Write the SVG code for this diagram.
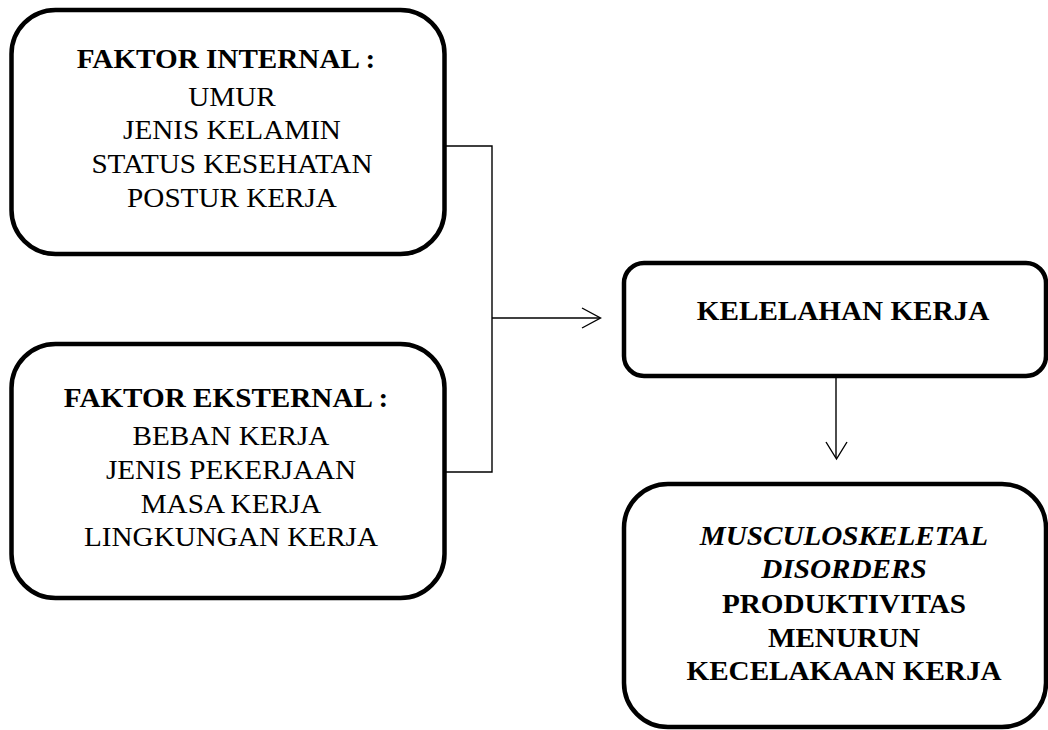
<svg xmlns="http://www.w3.org/2000/svg" width="1048" height="730" viewBox="0 0 1048 730">
<style>
.box{fill:#fff;stroke:#000;stroke-width:4.5}
.t{font-family:"Liberation Serif","Times New Roman",serif;font-size:27px;fill:#000;text-anchor:middle}
.b{font-weight:bold}
.i{font-style:italic}
.c{fill:none;stroke:#000;stroke-width:1.4}
</style>
<rect width="1048" height="730" fill="#fff"/>
<g id="connectors">
<polyline class="c" points="446,146 492,146 492,472 446,472"/>
<line class="c" x1="492" y1="318" x2="600" y2="318"/>
<polyline class="c" points="582,308 600.5,318 582,328"/>
<line class="c" x1="836" y1="378" x2="836" y2="458"/>
<polyline class="c" points="826,442 836.5,459 847,442"/>
</g>
<g id="internal">
<rect class="box" x="11.5" y="10" width="433" height="244" rx="44"/>
<g transform="translate(226,0) scale(1.08,1)">
<text class="t b" x="0" y="68">FAKTOR INTERNAL :</text>
</g>
<g transform="translate(232,0) scale(1.08,1)">
<text class="t" x="0" y="106">UMUR</text>
<text class="t" x="0" y="139">JENIS KELAMIN</text>
<text class="t" x="0" y="173">STATUS KESEHATAN</text>
<text class="t" x="0" y="207">POSTUR KERJA</text>
</g>
</g>
<g id="eksternal">
<rect class="box" x="11.5" y="344" width="433" height="254" rx="44"/>
<g transform="translate(226,0) scale(1.08,1)">
<text class="t b" x="0" y="407">FAKTOR EKSTERNAL :</text>
</g>
<g transform="translate(231,0) scale(1.08,1)">
<text class="t" x="0" y="445">BEBAN KERJA</text>
<text class="t" x="0" y="479">JENIS PEKERJAAN</text>
<text class="t" x="0" y="513">MASA KERJA</text>
<text class="t" x="0" y="546">LINGKUNGAN KERJA</text>
</g>
</g>
<g id="kelelahan">
<rect class="box" x="624" y="263" width="422" height="113" rx="20"/>
<g transform="translate(843,0) scale(1.08,1)">
<text class="t b" x="0" y="320">KELELAHAN KERJA</text>
</g>
</g>
<g id="dampak">
<rect class="box" x="624" y="484" width="422" height="243" rx="44"/>
<g transform="translate(844,0) scale(1.08,1)">
<text class="t b i" x="0" y="545">MUSCULOSKELETAL</text>
<text class="t b i" x="0" y="578">DISORDERS</text>
<text class="t b" x="0" y="613">PRODUKTIVITAS</text>
<text class="t b" x="0" y="647">MENURUN</text>
<text class="t b" x="0" y="680">KECELAKAAN KERJA</text>
</g>
</g>
</svg>
